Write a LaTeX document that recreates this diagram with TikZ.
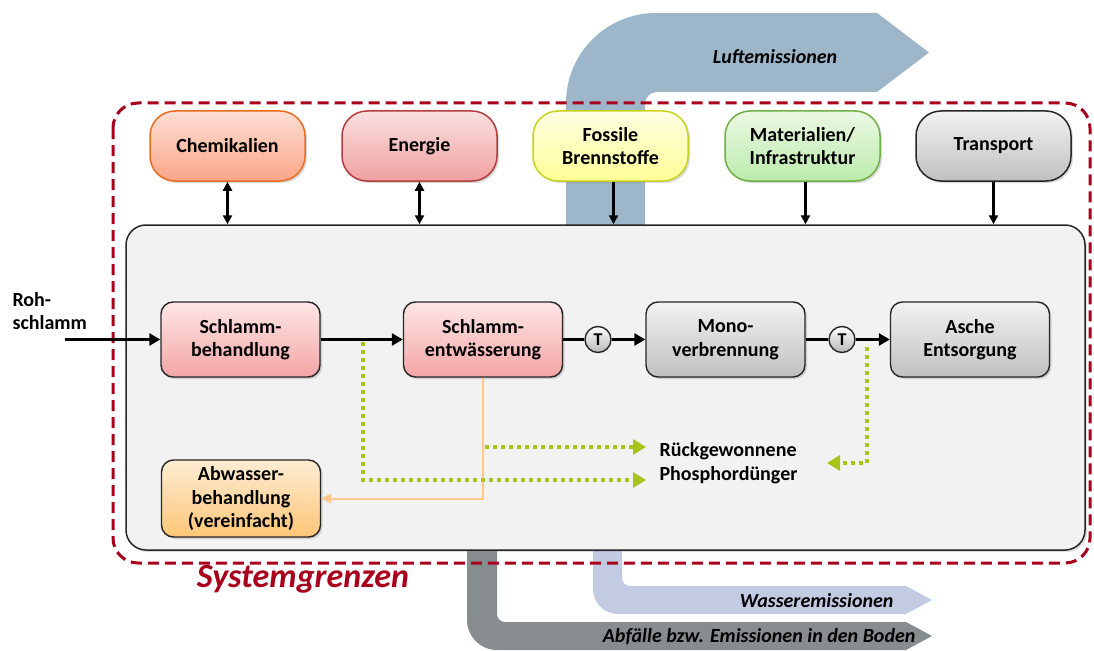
\documentclass[tikz,border=0pt]{standalone}
\usepackage{fontspec}
\setmainfont{Carlito}
\usetikzlibrary{arrows.meta,shadows}
\definecolor{bnd}{RGB}{168,0,28}
\definecolor{luft}{RGB}{157,182,202}
\definecolor{wass}{RGB}{195,203,227}
\definecolor{bod}{RGB}{135,140,143}
\definecolor{mainfill}{RGB}{242,242,242}
\definecolor{gdot}{RGB}{168,196,24}
\definecolor{orln}{RGB}{255,200,138}
\definecolor{chemT}{RGB}{253,222,212}\definecolor{chemB}{RGB}{250,166,136}\definecolor{chemD}{RGB}{232,108,30}
\definecolor{enT}{RGB}{250,224,224}\definecolor{enB}{RGB}{240,160,160}\definecolor{enD}{RGB}{180,60,60}
\definecolor{foT}{RGB}{255,255,228}\definecolor{foB}{RGB}{255,255,150}\definecolor{foD}{RGB}{200,210,30}
\definecolor{maT}{RGB}{235,248,228}\definecolor{maB}{RGB}{188,235,172}\definecolor{maD}{RGB}{110,175,70}
\definecolor{grT}{RGB}{242,242,242}\definecolor{grB}{RGB}{192,192,192}
\definecolor{pkT}{RGB}{253,230,230}\definecolor{pkB}{RGB}{244,165,165}
\definecolor{abT}{RGB}{255,236,212}\definecolor{abB}{RGB}{252,198,118}
\begin{document}
\begin{tikzpicture}[x=1pt,y=-1pt,
  txt/.style={font=\bfseries\fontsize{20}{23.5}\selectfont},
  topbox/.style={txt,rectangle,rounded corners=25pt,minimum width=155pt,minimum height=70pt,inner sep=0pt,align=center,line width=1.5pt,
     drop shadow={shadow xshift=2pt,shadow yshift=-2pt,opacity=0.3}},
  procbox/.style={txt,rectangle,rounded corners=12pt,minimum width=159pt,minimum height=75pt,inner sep=0pt,align=center,line width=1.4pt,draw=black!85,
     drop shadow={shadow xshift=2pt,shadow yshift=-2pt,opacity=0.3}},
  tcirc/.style={circle,draw=black!85,line width=1.4pt,top color=white,bottom color=black!28,minimum size=26pt,inner sep=0pt,font=\bfseries\fontsize{18}{20}\selectfont},
  mainarr/.style={line width=3pt,-{Triangle[length=11pt,width=12pt]}},
  mainln/.style={line width=3pt},
  toparr/.style={line width=2.2pt,-{Triangle[length=9pt,width=9pt]}},
  dblarr/.style={line width=2.2pt,{Triangle[length=9pt,width=9pt]}-{Triangle[length=9pt,width=9pt]}},
  gline/.style={draw=gdot,line width=4pt,dash pattern=on 4pt off 4pt,-{Triangle[length=13pt,width=15pt]}},
  oline/.style={draw=orln,line width=2pt,-{Triangle[length=10pt,width=10pt]}},
  emis/.style={font=\bfseries\itshape\fontsize{20}{23}\selectfont}
]
\useasboundingbox (0,0) rectangle (1094,650);
% emission bands
\fill[luft] (566,230) -- (566,103) .. controls (566,53.3) and (606.3,13) .. (656,13) -- (877,13) -- (929,52.5) -- (877,92)
  -- (657,92) .. controls (650.4,92) and (645,97.4) .. (645,104) -- (645,230) -- cycle;
\fill[wass] (593,540) -- (593,589) .. controls (593,602.8) and (604.2,614) .. (618,614) -- (906,614) -- (932,600) -- (906,586)
  -- (630,586) .. controls (625.6,586) and (622,582.4) .. (622,578) -- (622,540) -- cycle;
\fill[bod] (467,540) -- (467,620) .. controls (467,636.6) and (480.4,650) .. (497,650) -- (906,650) -- (932,636) -- (906,622)
  -- (505,622) .. controls (500.6,622) and (497,618.4) .. (497,614) -- (497,540) -- cycle;
\node[emis] (luftL) at (775,57) {Luftemissionen};
\node[emis,anchor=east] (wasL) at (897,601) {Wasseremissionen};
\node[emis,anchor=east] (bodL) at (919,637) {Abfälle bzw. Emissionen in den Boden};
% system boundary
\draw[bnd,line width=3pt,dash pattern=on 11pt off 6pt,rounded corners=25pt] (113,103) rectangle (1090,563);
\node[font=\bfseries\itshape\fontsize{34}{38}\selectfont,text=bnd] (sysL) at (303,579) {Systemgrenzen};
% main process area
\node[draw=black!85,line width=1.5pt,fill=mainfill,rounded corners=20pt,minimum width=959pt,minimum height=325pt,inner sep=0pt,
  drop shadow={shadow xshift=2pt,shadow yshift=-2pt,opacity=0.25}] (main) at (605.5,387.5) {};
% top boxes
\node[topbox,draw=chemD,top color=chemT,bottom color=chemB] (chem) at (227.5,146) {Chemikalien};
\node[topbox,draw=enD,top color=enT,bottom color=enB] (ener) at (419.5,146) {Energie};
\node[topbox,draw=foD,top color=foT,bottom color=foB] (foss) at (610.5,146) {Fossile\\Brennstoffe};
\node[topbox,draw=maD,top color=maT,bottom color=maB] (mat) at (802.5,146) {Materialien/\\Infrastruktur};
\node[topbox,draw=black!85,top color=grT,bottom color=grB] (trans) at (993.5,146) {Transport};
\draw[dblarr] (chem.south) -- (chem.south |- main.north);
\draw[dblarr] (ener.south) -- (ener.south |- main.north);
\draw[toparr] ([xshift=3pt]foss.south) -- ([xshift=3pt]foss.south |- main.north);
\draw[toparr] ([xshift=3pt]mat.south) -- ([xshift=3pt]mat.south |- main.north);
\draw[toparr] (trans.south) -- (trans.south |- main.north);
% process boxes
\node[procbox,top color=pkT,bottom color=pkB] (sb) at (240.5,339.5) {Schlamm-\\behandlung};
\node[procbox,top color=pkT,bottom color=pkB] (se) at (483,339.5) {Schlamm-\\entwässerung};
\node[procbox,top color=grT,bottom color=grB] (mono) at (725.5,339.5) {Mono-\\verbrennung};
\node[procbox,top color=grT,bottom color=grB] (asche) at (970,339.5) {Asche\\Entsorgung};
\node[procbox,top color=abT,bottom color=abB,minimum height=77pt] (abw) at (241,498.5) {Abwasser-\\behandlung\\(vereinfacht)};
\node[txt,anchor=west,align=left] (roh) at (9,311) {Roh-\\schlamm};
\node[txt,anchor=west,align=left] (phos) at (656,463) {Rückgewonnene\\Phosphordünger};
\node[tcirc] (t1) at (598,339.5) {T};
\node[tcirc] (t2) at (842,339.5) {T};
\coordinate (rin) at (65,339.5);
\draw[mainarr] (rin) -- (sb.west);
\draw[mainarr] (sb.east) -- (se.west);
\draw[mainln] (se.east) -- (t1.west);
\draw[mainarr] (t1.east) -- (mono.west);
\draw[mainln] (mono.east) -- (t2.west);
\draw[mainarr] (t2.east) -- (asche.west);
% recovery paths
\coordinate (g1s) at (363,342);
\coordinate (g1e) at (646,480);
\coordinate (g2s) at (485,447);
\coordinate (g2e) at (646,447);
\coordinate (g3s) at (867,347);
\coordinate (g3e) at (827,463);
\draw[oline] (se.south) |- (abw.east);
\draw[gline] (g1s) |- (g1e);
\draw[gline] (g2s) -- (g2e);
\draw[gline] (g3s) |- (g3e);
\end{tikzpicture}
\end{document}
